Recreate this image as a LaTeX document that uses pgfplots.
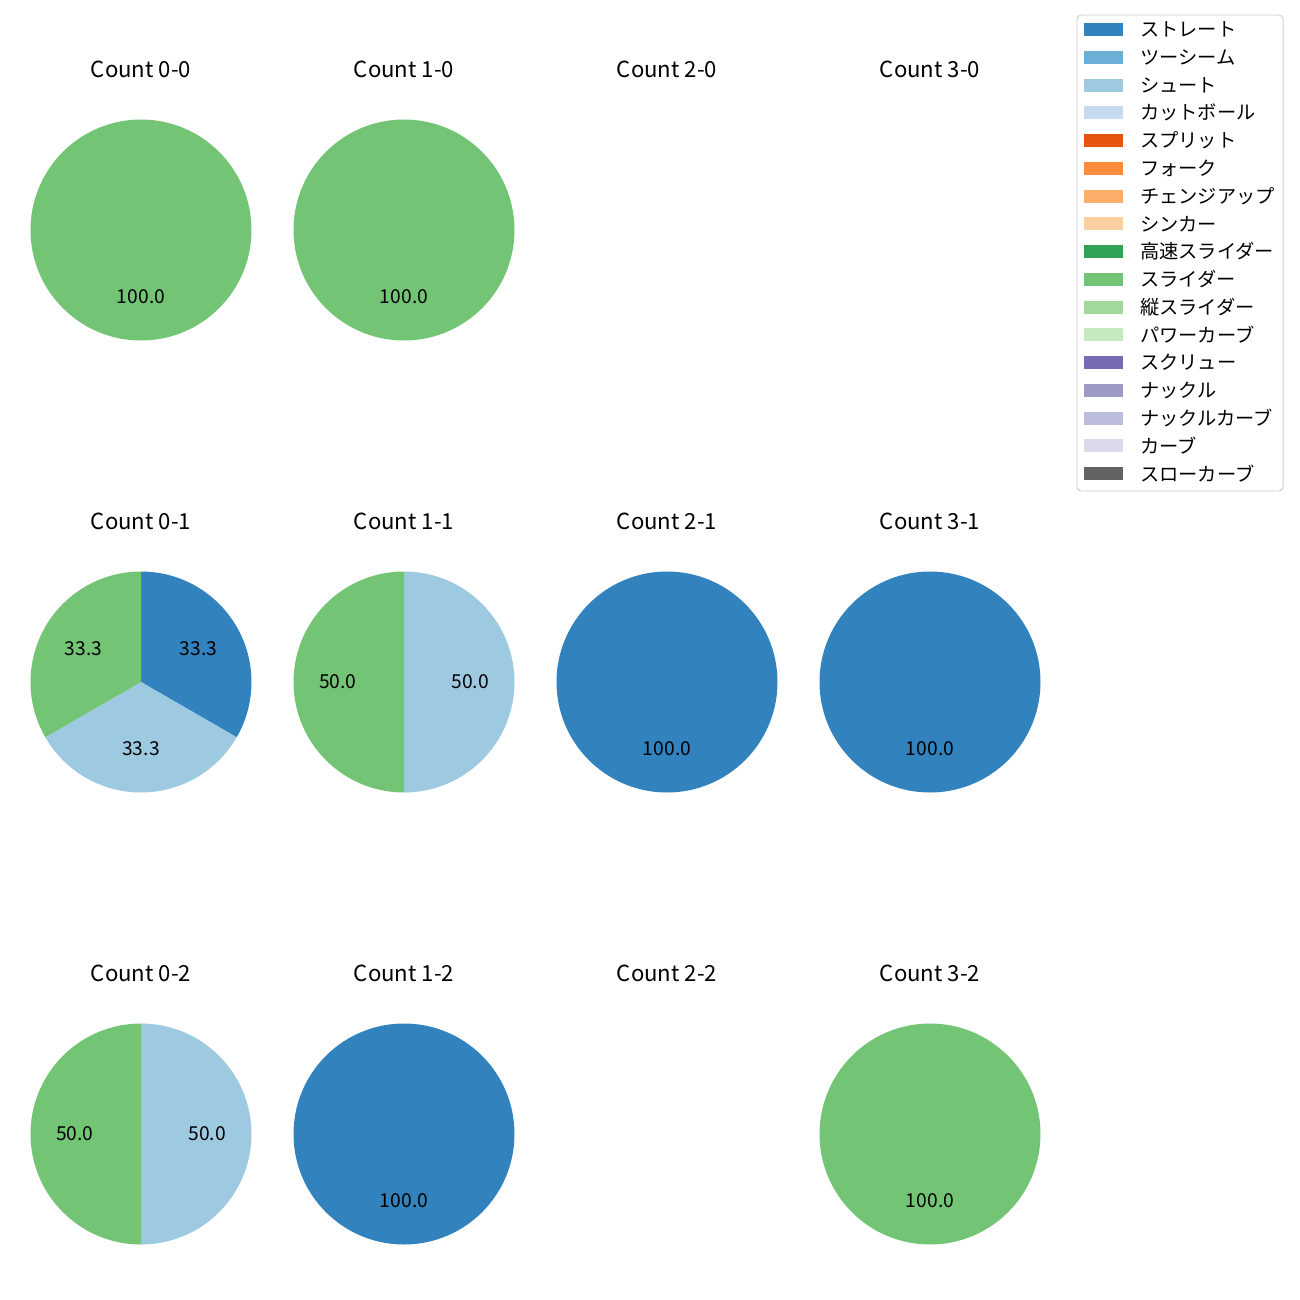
\documentclass[border=0pt]{standalone}
\usepackage{pgfplots}
\pgfplotsset{compat=1.18}
\usepackage{fontspec}
\setmainfont{Noto Sans CJK JP}

% tab20c colours
\definecolor{st}{HTML}{3182BD}   % ストレート
\definecolor{ts}{HTML}{6BAED6}   % ツーシーム
\definecolor{sh}{HTML}{9ECAE1}   % シュート
\definecolor{ct}{HTML}{C6DBEF}   % カットボール
\definecolor{sp}{HTML}{E6550D}   % スプリット
\definecolor{fk}{HTML}{FD8D3C}   % フォーク
\definecolor{ch}{HTML}{FDAE6B}   % チェンジアップ
\definecolor{sk}{HTML}{FDD0A2}   % シンカー
\definecolor{hs}{HTML}{31A354}   % 高速スライダー
\definecolor{sl}{HTML}{74C476}   % スライダー
\definecolor{vs}{HTML}{A1D99B}   % 縦スライダー
\definecolor{pc}{HTML}{C7E9C0}   % パワーカーブ
\definecolor{sc}{HTML}{756BB1}   % スクリュー
\definecolor{kn}{HTML}{9E9AC8}   % ナックル
\definecolor{kc}{HTML}{BCBDDC}   % ナックルカーブ
\definecolor{cv}{HTML}{DADAEB}   % カーブ
\definecolor{sw}{HTML}{636363}   % スローカーブ

\newcommand{\R}{79.56bp}
\newcommand{\lblfont}{\fontsize{13.9}{16}\selectfont}
\newcommand{\ttlfont}{\fontsize{16}{19}\selectfont}

% \slice{cx}{cy}{start angle}{percent}{colour}
\newcommand{\slice}[5]{%
  \fill[#5] (axis cs:#1,#2) -- ++(#3:\R)
    arc[start angle=#3, delta angle={-3.6*#4}, radius=\R] -- cycle;
  \path (axis cs:#1,#2) ++({#3-1.8*#4}:{0.6*\R})
    node[font=\lblfont] {\pgfmathprintnumber[fixed,fixed zerofill,precision=1]{#4}};
}
% \pietitle{cx}{cy}{text}
\newcommand{\pietitle}[3]{%
  \node[font=\ttlfont] at (axis cs:#1,#2-161) {#3};
}
% \legentry{y}{colour}{name}
\newcommand{\legentry}[3]{%
  \fill[#2] (axis cs:1084,#1-6.5) rectangle (axis cs:1123,#1+6.5);
  \node[anchor=west, font=\lblfont, inner sep=0pt] at (axis cs:1140,#1) {#3};
}

\begin{document}
\begin{tikzpicture}
\begin{axis}[
  width=936bp, height=936bp, scale only axis,
  xmin=0, xmax=1300, ymin=0, ymax=1300, y dir=reverse,
  hide axis, clip=false,
  /pgf/number format/assume math mode=true,
]
\path (axis cs:0,0) rectangle (axis cs:1300,1300);

% row 0
\pietitle{141}{230}{Count 0-0}
\slice{141}{230}{90}{100}{sl}
\pietitle{404}{230}{Count 1-0}
\slice{404}{230}{90}{100}{sl}
\pietitle{667}{230}{Count 2-0}
\pietitle{930}{230}{Count 3-0}

% row 1
\pietitle{141}{682}{Count 0-1}
\slice{141}{682}{90}{33.333}{st}
\slice{141}{682}{-30}{33.333}{sh}
\slice{141}{682}{-150}{33.333}{sl}
\pietitle{404}{682}{Count 1-1}
\slice{404}{682}{90}{50}{sh}
\slice{404}{682}{-90}{50}{sl}
\pietitle{667}{682}{Count 2-1}
\slice{667}{682}{90}{100}{st}
\pietitle{930}{682}{Count 3-1}
\slice{930}{682}{90}{100}{st}

% row 2
\pietitle{141}{1134}{Count 0-2}
\slice{141}{1134}{90}{50}{sh}
\slice{141}{1134}{-90}{50}{sl}
\pietitle{404}{1134}{Count 1-2}
\slice{404}{1134}{90}{100}{st}
\pietitle{667}{1134}{Count 2-2}
\pietitle{930}{1134}{Count 3-2}
\slice{930}{1134}{90}{100}{sl}

% legend
\draw[rounded corners=3bp, draw=black!20, fill=white, line width=0.7bp]
  (axis cs:1077,15) rectangle (axis cs:1283,491);
\legentry{29.5}{st}{ストレート}
\legentry{57.2}{ts}{ツーシーム}
\legentry{85.0}{sh}{シュート}
\legentry{112.7}{ct}{カットボール}
\legentry{140.5}{sp}{スプリット}
\legentry{168.2}{fk}{フォーク}
\legentry{196.0}{ch}{チェンジアップ}
\legentry{223.7}{sk}{シンカー}
\legentry{251.5}{hs}{高速スライダー}
\legentry{279.2}{sl}{スライダー}
\legentry{307.0}{vs}{縦スライダー}
\legentry{334.7}{pc}{パワーカーブ}
\legentry{362.5}{sc}{スクリュー}
\legentry{390.2}{kn}{ナックル}
\legentry{418.0}{kc}{ナックルカーブ}
\legentry{445.7}{cv}{カーブ}
\legentry{473.5}{sw}{スローカーブ}
\end{axis}
\end{tikzpicture}
\end{document}
